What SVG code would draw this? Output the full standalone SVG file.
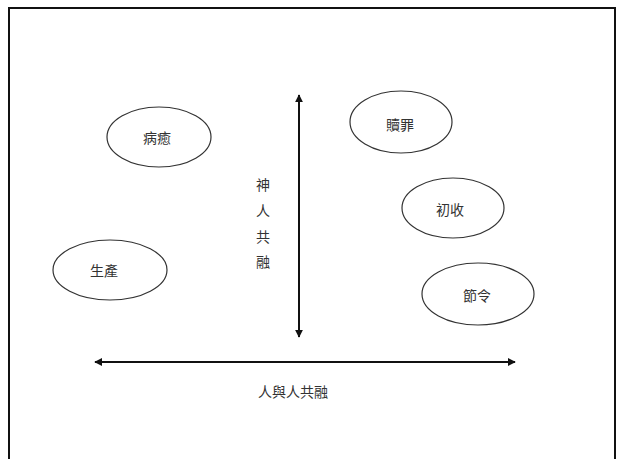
<svg xmlns="http://www.w3.org/2000/svg" width="618" height="459" viewBox="0 0 618 459">
<defs>
<style>
.node ellipse{fill:#fff;stroke:#333;stroke-width:1.2}
text{font-family:"Noto Sans CJK TC","Noto Sans CJK SC",sans-serif;font-size:14px;fill:#333;text-anchor:middle;dominant-baseline:central}
.conn line{stroke:#111;stroke-width:2}
</style>
<marker id="ah" viewBox="0 0 10 10" refX="9" refY="5" markerWidth="4" markerHeight="4" orient="auto-start-reverse" markerUnits="strokeWidth">
<path d="M0,0 L10,5 L0,10 z" fill="#111"/>
</marker>
</defs>
<rect x="0" y="0" width="618" height="459" fill="#fff"/>
<rect x="9" y="8" width="606" height="460" fill="none" stroke="#111" stroke-width="2"/>
<g class="conn">
<line x1="299" y1="95" x2="299" y2="337" marker-start="url(#ah)" marker-end="url(#ah)"/>
<line x1="95" y1="362" x2="515" y2="362" marker-start="url(#ah)" marker-end="url(#ah)"/>
</g>
<g id="label-v">
<text x="263" y="184">神</text>
<text x="263" y="210">人</text>
<text x="263" y="236">共</text>
<text x="263" y="261">融</text>
</g>
<g id="label-h"><text x="293" y="391">人與人共融</text></g>
<g id="n1" class="node"><ellipse cx="159" cy="137" rx="52" ry="30"/><text x="157" y="137">病癒</text></g>
<g id="n2" class="node"><ellipse cx="110" cy="270" rx="57" ry="30"/><text x="104" y="270">生產</text></g>
<g id="n3" class="node"><ellipse cx="401" cy="122" rx="51" ry="31"/><text x="400" y="124">贖罪</text></g>
<g id="n4" class="node"><ellipse cx="453" cy="208" rx="51" ry="30"/><text x="450" y="209">初收</text></g>
<g id="n5" class="node"><ellipse cx="478" cy="294" rx="56" ry="31"/><text x="477" y="295">節令</text></g>
</svg>
